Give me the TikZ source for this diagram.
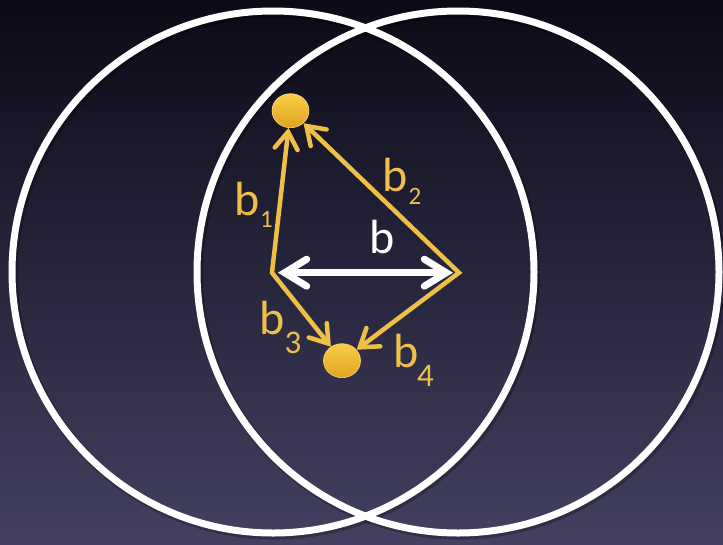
\documentclass[tikz,border=0pt]{standalone}
\usepackage{fontspec}
\setmainfont{Carlito}
\usetikzlibrary{arrows.meta,shapes.geometric}
\definecolor{bgtop}{RGB}{11,10,22}
\definecolor{bgbot}{RGB}{67,64,97}
\definecolor{gold}{RGB}{238,192,72}
\definecolor{dotlight}{RGB}{250,206,70}
\definecolor{dotdark}{RGB}{222,164,34}
\tikzset{
  ring/.style={draw=white, line width=7pt},
  ringshadow/.style={draw=black, opacity=0.25, line width=9pt},
  goldtip/.tip={Straight Barb[length=17pt,width=23pt,line cap=round]},
  whitetip/.tip={Straight Barb[length=22pt,width=27pt,line cap=round]},
  goldline/.style={draw=gold, line width=4.5pt, line join=miter, goldtip-goldtip},
  whitearrow/.style={draw=white, line width=7pt, whitetip-whitetip},
  dot/.style={ellipse, inner sep=0pt, minimum width=37pt, minimum height=34pt,
    top color=dotlight, bottom color=dotdark, draw=dotlight!70!white, line width=0.6pt},
  lbl/.style={inner sep=0pt, text=gold, font=\fontsize{48}{50}\selectfont},
  wlbl/.style={inner sep=0pt, text=white, font=\fontsize{48}{50}\selectfont},
  sublbl/.style={inner sep=0pt, text=gold, font=\fontsize{25}{26}\selectfont},
  bigsublbl/.style={inner sep=0pt, text=gold, font=\fontsize{33}{34}\selectfont},
}
\begin{document}
\begin{tikzpicture}[x=1pt,y=-1pt]
\fill[top color=bgtop, bottom color=bgbot] (0,0) rectangle (723,544);
\useasboundingbox (0,0) rectangle (723,544);
% rings
\draw[ringshadow] (274.5,274) circle[radius=261pt];
\draw[ringshadow] (459.5,274) circle[radius=261pt];
\draw[ring] (273,272) circle[radius=261pt];
\draw[ring] (458,272) circle[radius=261pt];
% points
\coordinate (L) at (272,272.7);
\coordinate (R) at (459,272.7);
\node[dot] (T) at (290.5,110.7) {};
\node[dot] (B) at (342,360.7) {};
% white arrow
\draw[whitearrow] ([xshift=6pt]L) -- ([xshift=-6pt]R);
% gold arrows
\draw[goldline] (T) -- (L) -- (B);
\draw[goldline] (T) -- (R) -- (B);
% labels
\node[lbl] (b1) at (247,198.5) {b};
\node[sublbl] (s1) at (266.5,219.5) {1};
\node[lbl] (b2) at (395,174.5) {b};
\node[sublbl] (s2) at (415,196.5) {2};
\node[wlbl] (bw) at (382.5,237) {b};
\node[lbl] (b3) at (272.5,317.5) {b};
\node[bigsublbl] (s3) at (293,342.5) {3};
\node[lbl] (b4) at (406,351) {b};
\node[bigsublbl] (s4) at (425.5,376) {4};
\end{tikzpicture}
\end{document}
